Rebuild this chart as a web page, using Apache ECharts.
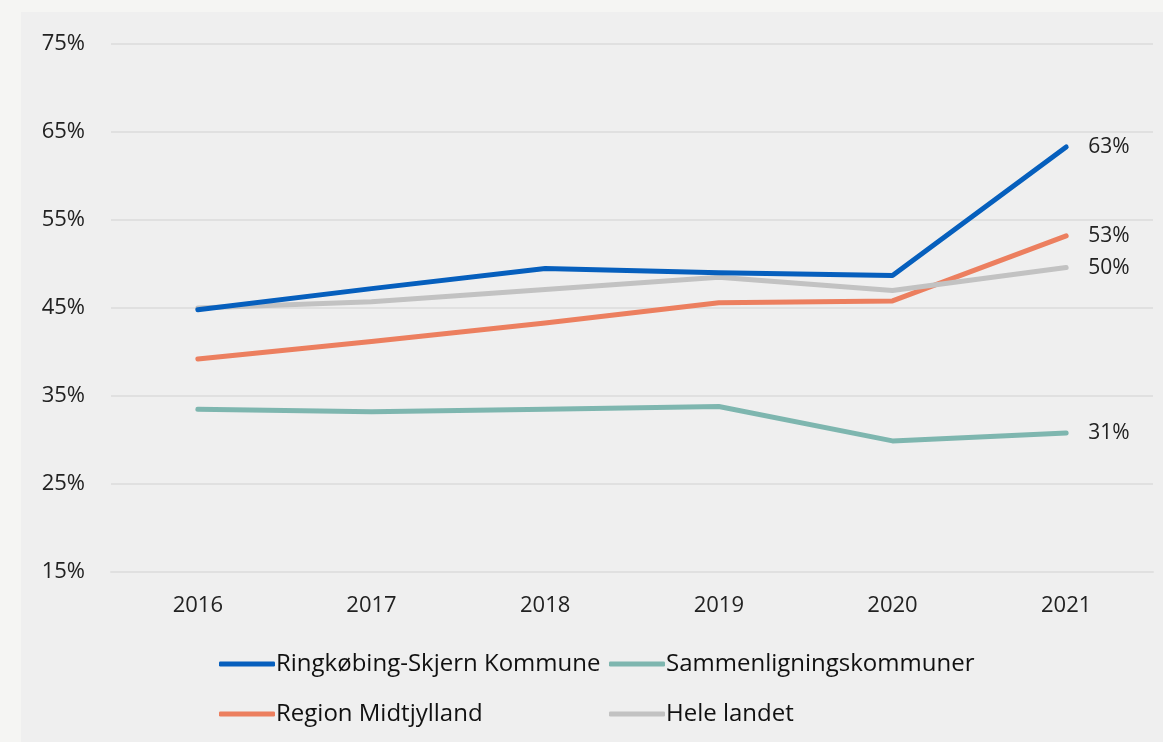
<!DOCTYPE html>
<html>
<head>
<meta charset="utf-8">
<script src="https://cdn.jsdelivr.net/npm/echarts@6/dist/echarts.min.js"></script>
<style>
  html, body { margin: 0; padding: 0; background: #f5f5f3; }
  #chart { width: 1163px; height: 742px; }
</style>
</head>
<body>
<div id="chart"></div>
<script>
// Years on the category axis
const years = ['2016', '2017', '2018', '2019', '2020', '2021'];

// Share (%) per year for each area
const ringkobingSkjern = [44.8, 47.2, 49.5, 49.0, 48.7, 63.3];
const sammenligning = [33.5, 33.2, 33.5, 33.8, 29.9, 30.8];
const regionMidtjylland = [39.2, 41.2, 43.3, 45.6, 45.8, 53.2];
const heleLandet = [45.0, 45.7, 47.1, 48.5, 47.0, 49.6];

// Series names as shown in the legend
const names = ['Ringkøbing-Skjern Kommune', 'Sammenligningskommuner', 'Region Midtjylland', 'Hele landet'];
const colors = ['#065fbd', '#7eb6af', '#ec7f5f', '#c2c2c2'];
const values = [ringkobingSkjern, sammenligning, regionMidtjylland, heleLandet];

const font = '"Open Sans", "Noto Sans", sans-serif';

const chart = echarts.init(document.getElementById('chart'), null, { renderer: 'canvas' });

const series = names.map((name, i) => ({
  name,
  type: 'line',
  data: values[i],
  symbol: 'none',
  z: i === 0 ? 5 : 3,
  lineStyle: { width: 5, color: colors[i], cap: 'round', join: 'round' },
  itemStyle: { color: colors[i] },
  endLabel: {
    show: true,
    distance: 22,
    formatter: p => Math.round(p.value) + '%',
    fontFamily: font,
    fontSize: 21,
    color: '#222'
  }
}));

const legendCommon = {
  orient: 'vertical',
  itemWidth: 56,
  itemHeight: 5,
  itemGap: 26,
  icon: 'roundRect',
  textStyle: { fontFamily: font, fontSize: 24, color: '#111', padding: [0, 0, 0, -4] }
};

chart.setOption({
  backgroundColor: '#f5f5f3',
  animation: false,
  graphic: [{
    type: 'rect',
    left: 21,
    top: 12,
    shape: { width: 1142, height: 730 },
    style: { fill: '#efefef' },
    silent: true,
    z: -10
  }],
  legend: [
    Object.assign({ left: 214, top: 647, data: [names[0], names[2]] }, legendCommon),
    Object.assign({ left: 604, top: 647, data: [names[1], names[3]] }, legendCommon)
  ],
  grid: { left: 111, right: 10, top: 44, bottom: 170 },
  xAxis: {
    type: 'category',
    data: years,
    boundaryGap: true,
    axisLine: { lineStyle: { color: '#e0e0e0', width: 2 } },
    axisTick: { show: false },
    axisLabel: { fontFamily: font, fontSize: 22, color: '#222', margin: 23 }
  },
  yAxis: {
    type: 'value',
    min: 15,
    max: 75,
    interval: 10,
    axisLine: { show: false },
    axisTick: { show: false },
    splitLine: { lineStyle: { color: '#e0e0e0', width: 2 } },
    axisLabel: { fontFamily: font, fontSize: 22, color: '#222', margin: 26, formatter: '{value}%' }
  },
  series
});
</script>
</body>
</html>
